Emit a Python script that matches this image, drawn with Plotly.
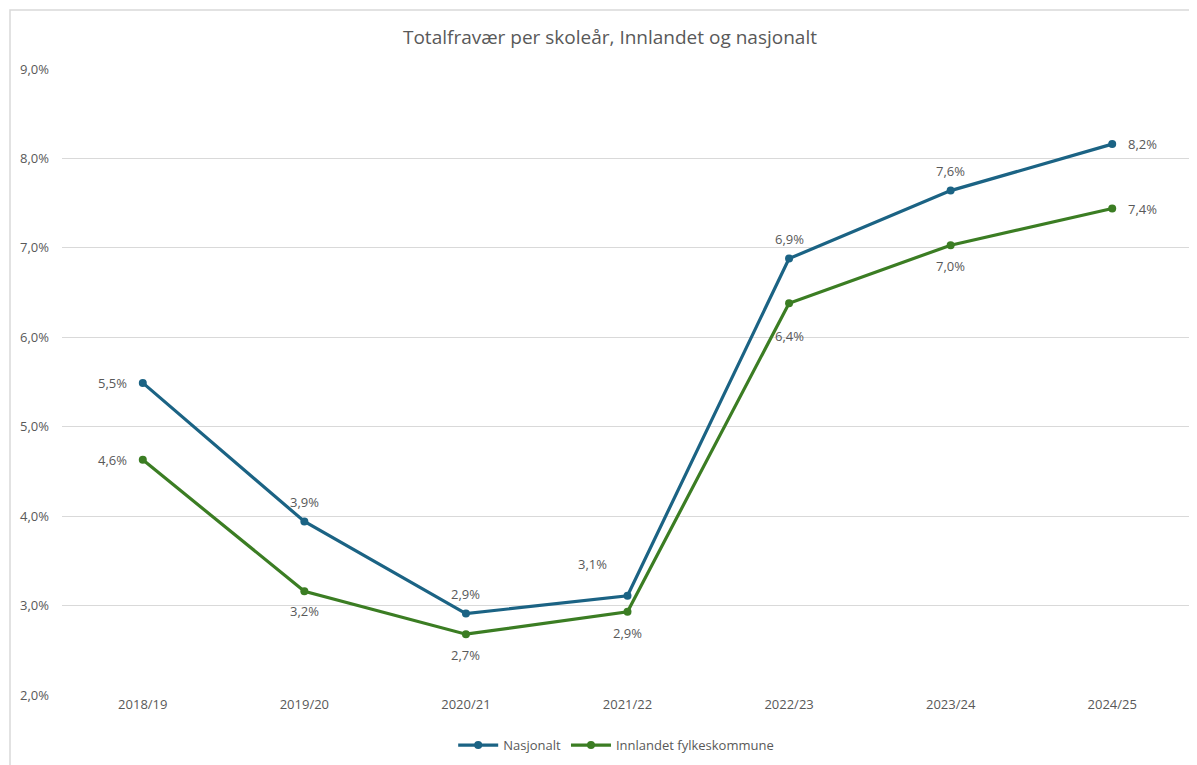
import plotly.graph_objects as go

categories = ["2018/19", "2019/20", "2020/21", "2021/22", "2022/23", "2023/24", "2024/25"]
nasjonalt = [0.0549, 0.0394, 0.0291, 0.0311, 0.0688, 0.0764, 0.0816]
innlandet = [0.0463, 0.0316, 0.0268, 0.0293, 0.0638, 0.0703, 0.0744]
y_ticks = [0.02, 0.03, 0.04, 0.05, 0.06, 0.07, 0.08, 0.09]

# label placement (style): (xanchor, xshift, yshift)
nas_lbl = [("right", -14, 0), ("center", 0, 20), ("center", 0, 20), ("center", -35, 32),
           ("center", 0, 20), ("center", 0, 20), ("left", 14, 0)]
inn_lbl = [("right", -14, 0), ("center", 0, -20), ("center", 0, -21), ("center", 0, -21),
           ("center", 0, -33), ("center", 0, -21), ("left", 14, 0)]

FONT = "Open Sans"
TXT = "#595959"
BLUE = "#1B6384"
GREEN = "#3B7D23"

fig = go.Figure()
fig.add_trace(go.Scatter(
    x=categories, y=nasjonalt, name="Nasjonalt", mode="lines+markers",
    line=dict(color=BLUE, width=3.2), marker=dict(size=8, color=BLUE),
))
fig.add_trace(go.Scatter(
    x=categories, y=innlandet, name="Innlandet fylkeskommune", mode="lines+markers",
    line=dict(color=GREEN, width=3.2), marker=dict(size=8, color=GREEN),
))

annotations = []
for series, lbls in ((nasjonalt, nas_lbl), (innlandet, inn_lbl)):
    for cat, val, (xa, xs, ys) in zip(categories, series, lbls):
        txt = f"{val * 100:.1f}".replace(".", ",") + "%"
        annotations.append(dict(x=cat, y=val, xref="x", yref="y", text=txt, showarrow=False,
                                xanchor=xa, yanchor="middle", xshift=xs, yshift=ys,
                                font=dict(family=FONT, size=13, color=TXT)))

fig.update_layout(
    width=1189, height=757,
    paper_bgcolor="white", plot_bgcolor="white",
    separators=", ",
    margin=dict(l=54, r=4, t=61, b=70, autoexpand=False),
    font=dict(family=FONT, color=TXT, size=13),
    title=dict(text="Totalfravær per skoleår, Innlandet og nasjonalt", x=0.4845, xanchor="center",
               xref="paper", y=1 - 29 / 757, yanchor="middle", yref="container",
               font=dict(family=FONT, size=19, color=TXT)),
    showlegend=True,
    legend=dict(orientation="h", x=0.49, xanchor="center", y=-0.08, yanchor="middle",
                font=dict(family=FONT, size=13, color=TXT), itemwidth=40,
                bgcolor="rgba(0,0,0,0)"),
    xaxis=dict(type="category", showgrid=False, zeroline=False, showline=False,
               ticks="", tickfont=dict(family=FONT, size=13, color=TXT),
               range=[-0.5, 6.5]),
    yaxis=dict(range=[0.02, 0.09], tickvals=y_ticks, tickformat=".1%",
               showgrid=True, gridcolor="#D9D9D9", gridwidth=1, zeroline=False,
               showline=False, ticks="", ticklabelstandoff=12,
               tickfont=dict(family=FONT, size=13, color=TXT)),
    annotations=annotations,
    shapes=[dict(type="rect", xref="paper", yref="paper",
                 x0=(2 - 54) / 1131, x1=1.2, y0=-0.3, y1=(687 - 2) / 626,
                 line=dict(color="#D9D9D9", width=1.5), fillcolor="rgba(0,0,0,0)", layer="below")],
)

fig.write_html("out.html")
